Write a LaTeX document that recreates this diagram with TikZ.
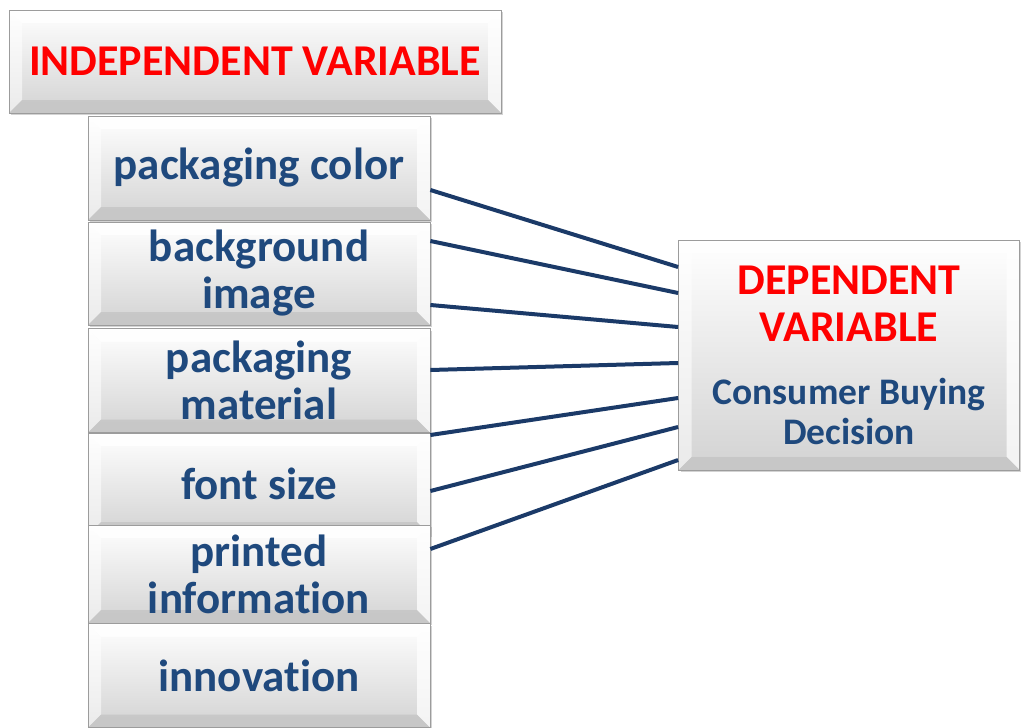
\documentclass[tikz,border=0pt]{standalone}
\usepackage{fontspec}
\setmainfont{Carlito}[RawFeature={-liga}]
\usepackage{tikz}
\usetikzlibrary{calc,shadows}
\definecolor{blau}{HTML}{1F497D}
\definecolor{rot}{HTML}{FF0000}
\definecolor{linie}{HTML}{1B3A68}
\definecolor{rand}{HTML}{9C9C9C}
\definecolor{fase}{HTML}{C4C4C4}
\tikzset{
  kiste/.style={draw=rand,line width=0.8pt,top color=white,bottom color=fase!75,
    drop shadow={shadow xshift=2pt,shadow yshift=-2pt,opacity=0.35},
    align=center,inner sep=0pt,text=blau,font=\bfseries\fontsize{45}{47}\selectfont,
    path picture={
      \coordinate (nw) at (path picture bounding box.north west);
      \coordinate (ne) at (path picture bounding box.north east);
      \coordinate (sw) at (path picture bounding box.south west);
      \coordinate (se) at (path picture bounding box.south east);
      \fill[white,opacity=0.95] (nw)--(ne)--([shift={(-13pt,-13pt)}]ne)--([shift={(13pt,-13pt)}]nw)--cycle;
      \fill[white,opacity=0.55] (nw)--([shift={(13pt,-13pt)}]nw)--([shift={(13pt,13pt)}]sw)--(sw)--cycle;
      \fill[white,opacity=0.75] (ne)--([shift={(-13pt,-13pt)}]ne)--([shift={(-13pt,13pt)}]se)--(se)--cycle;
      \fill[fase,opacity=0.8] (sw)--([shift={(13pt,13pt)}]sw)--([shift={(-13pt,13pt)}]se)--(se)--cycle;
    }},
  titel/.style={text=rot,font=\bfseries\fontsize{44}{47}\selectfont},
  link/.style={linie,line width=4pt},
}

\begin{document}
\begin{tikzpicture}[x=1pt,y=-1pt]
  \useasboundingbox (0,0) rectangle (1021,728);
  % linke Seite
  \node[kiste,titel,minimum width=492pt,minimum height=103pt] (indep) at (255,61.5) {INDEPENDENT VARIABLE};
  \node[kiste,minimum width=342pt,minimum height=104pt] (color) at (259,168) {packaging color};
  \node[kiste,minimum width=342pt,minimum height=103pt] (background) at (259,273.5) {background\\image};
  \node[kiste,minimum width=342pt,minimum height=104pt] (material) at (259,380.5) {packaging\\material};
  \node[kiste,minimum width=342pt,minimum height=102pt] (font) at (259,484) {font size};
  \node[kiste,minimum width=342pt,minimum height=98pt] (printed) at (259,574) {printed\\information};
  \node[kiste,minimum width=342pt,minimum height=104pt] (innovation) at (259,675.5) {innovation};
  % rechte Seite
  \node[kiste,titel,minimum width=341pt,minimum height=230pt] (dep) at (849,355)
    {DEPENDENT\\VARIABLE\\[16pt]
     \textcolor{blau}{\fontsize{37.5}{40}\selectfont Consumer Buying}\\[-7pt]
     \textcolor{blau}{\fontsize{37.5}{40}\selectfont Decision}};
  % Verbindungen
  \draw[link] ([yshift=-22pt]color.east) -- ([yshift=88pt]dep.west);
  \draw[link] ([yshift=32.5pt]background.east) -- ([yshift=62pt]dep.west);
  \draw[link] ([yshift=-31.5pt]background.east) -- ([yshift=28pt]dep.west);
  \draw[link] ([yshift=10.5pt]material.east) -- ([yshift=-8pt]dep.west);
  \draw[link] ([yshift=49pt]font.east) -- ([yshift=-43pt]dep.west);
  \draw[link] ([yshift=-7pt]font.east) -- ([yshift=-72pt]dep.west);
  \draw[link] ([yshift=25pt]printed.east) -- ([yshift=-105pt]dep.west);
\end{tikzpicture}
\end{document}
